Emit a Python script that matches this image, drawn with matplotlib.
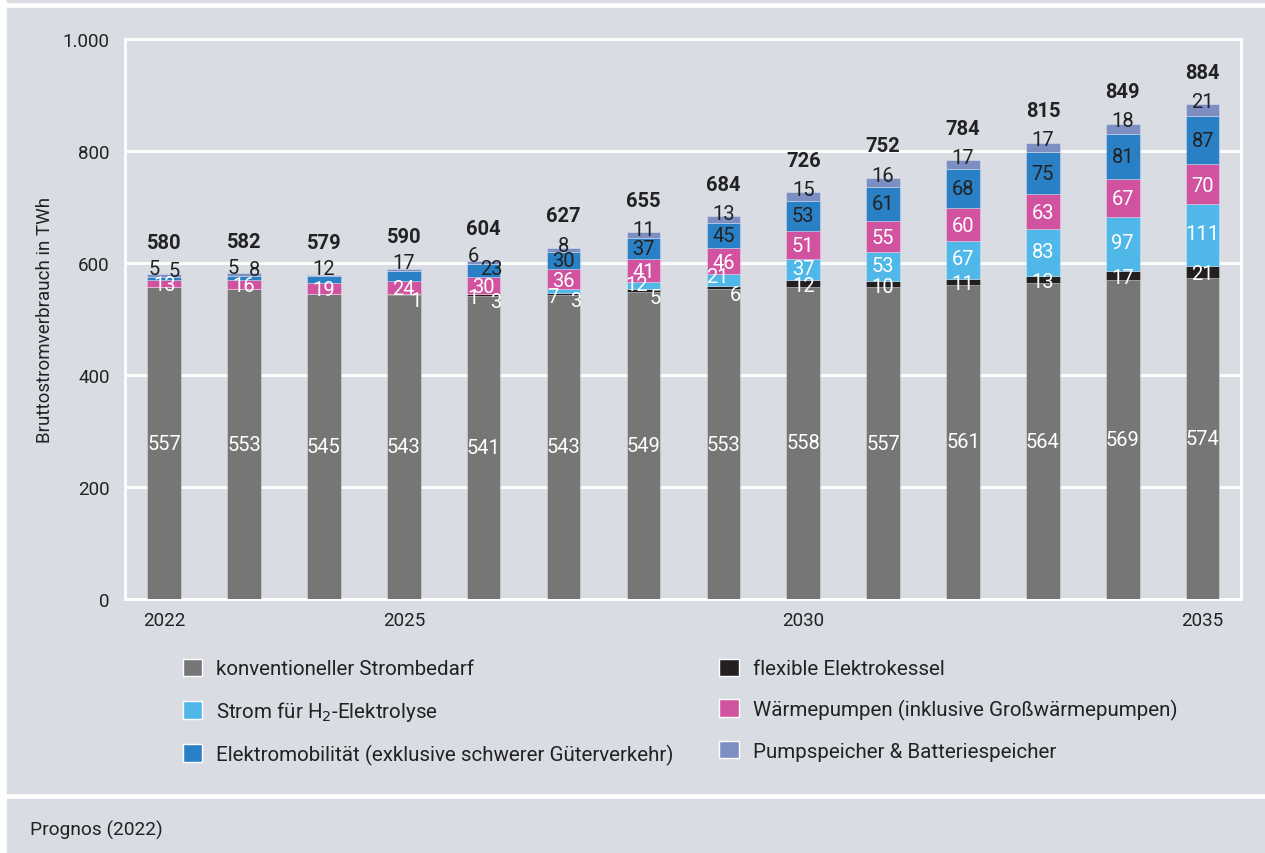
import matplotlib.pyplot as plt
from matplotlib.patches import Rectangle, Patch

plt.rcParams['font.family'] = ['Roboto', 'DejaVu Sans']

years = [2022, 2023, 2024, 2025, 2026, 2027, 2028, 2029, 2030, 2031, 2032, 2033, 2034, 2035]
konventionell = [557, 553, 545, 543, 541, 543, 549, 553, 558, 557, 561, 564, 569, 574]
kessel = [0, 0, 0, 1, 3, 3, 5, 6, 12, 10, 11, 13, 17, 21]
elektrolyse = [0, 0, 0, 0, 1, 7, 12, 21, 37, 53, 67, 83, 97, 111]
waermepumpen = [13, 16, 19, 24, 30, 36, 41, 46, 51, 55, 60, 63, 67, 70]
emob = [5, 8, 12, 17, 23, 30, 37, 45, 53, 61, 68, 75, 81, 87]
speicher = [5, 5, 3, 5, 6, 8, 11, 13, 15, 16, 17, 17, 18, 21]
totals = [580, 582, 579, 590, 604, 627, 655, 684, 726, 752, 784, 815, 849, 884]

c_gray = '#767676'
c_black = '#231f20'
c_light = '#4fb8e8'
c_pink = '#d1529f'
c_blue = '#2a80c5'
c_lav = '#7d8fc2'
bg = '#d9dce3'
txt = '#222222'

fig = plt.figure(figsize=(12.65, 8.54), dpi=100)
fig.patch.set_facecolor('white')
W, H = 1265, 854
# background panels
fig.patches.append(Rectangle((7 / W, (H - 3) / H), 1, 3 / H, transform=fig.transFigure, color=bg, zorder=-10))
fig.patches.append(Rectangle((7 / W, (H - 794) / H), 1, (794 - 9) / H, transform=fig.transFigure, color=bg, zorder=-10))
fig.patches.append(Rectangle((7 / W, 0), 1, (H - 800) / H, transform=fig.transFigure, color=bg, zorder=-10))

ax = fig.add_axes([125 / W, (H - 600) / H, 1116 / W, 560 / H])
ax.set_facecolor(bg)
for s in ax.spines.values():
    s.set_color('white')
    s.set_linewidth(2)
ax.set_ylim(0, 1000)
ax.set_xlim(2021.51, 2035.48)
ax.set_yticks(range(0, 1001, 200))
ax.set_yticklabels(['0', '200', '400', '600', '800', '1.000'])
ax.set_xticks([2022, 2025, 2030, 2035])
ax.tick_params(length=0, labelsize=13.5, colors=txt)
ax.tick_params(axis='y', pad=11)
ax.tick_params(axis='x', pad=9)
ax.grid(axis='y', color='white', linewidth=2)
ax.set_axisbelow(True)
ax.set_ylabel('Bruttostromverbrauch in TWh', fontsize=13.5, color=txt, labelpad=6)

series = [konventionell, kessel, elektrolyse, waermepumpen, emob, speicher]
colors = [c_gray, c_black, c_light, c_pink, c_blue, c_lav]
bw = 0.42
bottom = [0] * len(years)
bottoms = []
for vals, col in zip(series, colors):
    ax.bar(years, vals, bw, bottom=bottom, color=col, edgecolor=(1, 1, 1, 0.35), linewidth=0.6, zorder=3)
    bottoms.append(list(bottom))
    bottom = [b + v for b, v in zip(bottom, vals)]

fs = 14.5
lab = dict(fontsize=fs, ha='center', va='center', zorder=5)
for i, x in enumerate(years):
    # konventionell
    ax.text(x, konventionell[i] / 2, str(konventionell[i]), color='white', **lab)
    # kessel
    v = kessel[i]
    b = bottoms[1][i]
    if v >= 10:
        ax.text(x, b + v / 2 - 4, str(v), color='white', **lab)
    elif v > 0:
        ax.text(x + 0.15, b - 10, str(v), color='white', **lab)
    # elektrolyse
    v = elektrolyse[i]
    b = bottoms[2][i]
    if v >= 25:
        ax.text(x, b + v / 2 + 2, str(v), color='white', **lab)
    elif v >= 10:
        ax.text(x - 0.08, b + v - 4, str(v), color='white', **lab)
    elif v > 0:
        ax.text(x - 0.14, b - 5, str(v), color='white', **lab)
    # waermepumpen
    v = waermepumpen[i]
    b = bottoms[3][i]
    ax.text(x, b + v / 2 - 2, str(v), color='white', **lab)
    # emob
    v = emob[i]
    b = bottoms[4][i]
    if v < 10:
        ax.text(x + 0.13, totals[i] + 6, str(v), color=txt, **lab)
    elif v < 20:
        ax.text(x, totals[i] + 11, str(v), color=txt, **lab)
    elif v < 25:
        ax.text(x + 0.1, b + v / 2 + 3, str(v), color=txt, **lab)
    else:
        ax.text(x, b + v / 2, str(v), color=txt, **lab)
    # speicher
    v = speicher[i]
    if v >= 8:
        ax.text(x, totals[i] + 5, str(v), color=txt, **lab)
    elif emob[i] < 10 or emob[i] >= 20:
        ax.text(x - 0.13, totals[i] + 10, str(v), color=txt, **lab)
    # total
    ax.text(x, totals[i] + 57, str(totals[i]), color=txt, fontsize=14.5,
            fontweight='bold', ha='center', va='center', zorder=5)

labels = ['konventioneller Strombedarf', 'Strom für H$_2$-Elektrolyse',
          'Elektromobilität (exklusive schwerer Güterverkehr)', 'flexible Elektrokessel',
          'Wärmepumpen (inklusive Großwärmepumpen)', 'Pumpspeicher & Batteriespeicher']
lcols = [c_gray, c_light, c_blue, c_black, c_pink, c_lav]
handles = [Patch(facecolor=c, edgecolor='white', linewidth=1) for c in lcols]
leg = fig.legend(handles, labels, ncol=2, loc='upper left', bbox_to_anchor=(164 / W, (H - 641) / H),
                 frameon=False, fontsize=14.8, handlelength=0.95, handleheight=0.95,
                 handletextpad=0.7, columnspacing=2.2, labelspacing=1.0)
for t in leg.get_texts():
    t.set_color(txt)

fig.text(30 / W, (H - 830) / H, 'Prognos (2022)', fontsize=13.8, color=txt, va='center', ha='left')

fig.savefig('out.png', dpi=100, facecolor=fig.get_facecolor())
